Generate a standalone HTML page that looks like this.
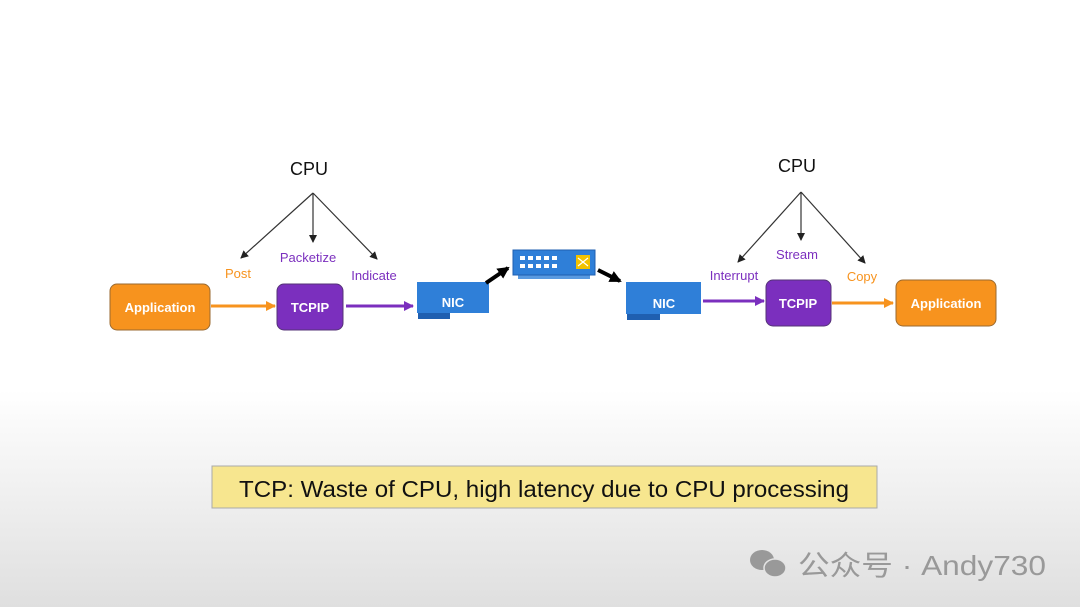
<!DOCTYPE html>
<html><head><meta charset="utf-8"><style>
html,body{margin:0;padding:0}
body{width:1080px;height:607px;overflow:hidden;background:linear-gradient(to bottom,#fff 0px,#fff 390px,#dfdfdf 607px);font-family:"Liberation Sans","Noto Sans CJK SC",sans-serif}
svg{display:block}
</style></head><body>
<svg width="1080" height="607" viewBox="0 0 1080 607" xmlns="http://www.w3.org/2000/svg" font-family="Liberation Sans, Noto Sans CJK SC, sans-serif">
<defs>
<marker id="k" markerWidth="8" markerHeight="8" refX="7" refY="4" orient="auto" markerUnits="userSpaceOnUse"><path d="M0,0 L8,4 L0,8 z" fill="#222"/></marker>
<marker id="o" markerWidth="10" markerHeight="10" refX="9" refY="5" orient="auto" markerUnits="userSpaceOnUse"><path d="M0,0 L10,5 L0,10 z" fill="#F7931E"/></marker>
<marker id="p" markerWidth="10" markerHeight="10" refX="9" refY="5" orient="auto" markerUnits="userSpaceOnUse"><path d="M0,0 L10,5 L0,10 z" fill="#7B2FBE"/></marker>
<marker id="b" markerWidth="12" markerHeight="12" refX="10" refY="6" orient="auto" markerUnits="userSpaceOnUse"><path d="M0,0 L12,6 L0,12 z" fill="#000"/></marker>
</defs>
<text x="309" y="175" font-size="18" text-anchor="middle" fill="#111">CPU</text>
<g stroke="#333" stroke-width="1.2" fill="none" marker-end="url(#k)">
<line x1="313" y1="193" x2="241" y2="258"/><line x1="313" y1="193" x2="313" y2="242"/><line x1="313" y1="193" x2="377" y2="259"/>
<line x1="801" y1="192" x2="738" y2="262"/><line x1="801" y1="192" x2="801" y2="240"/><line x1="801" y1="192" x2="865" y2="263"/>
</g>
<text x="238" y="278" font-size="13" text-anchor="middle" fill="#F7931E">Post</text>
<text x="308" y="262" font-size="13" text-anchor="middle" fill="#7B2FBE">Packetize</text>
<text x="374" y="280" font-size="13" text-anchor="middle" fill="#7B2FBE">Indicate</text>
<text x="797" y="172" font-size="18" text-anchor="middle" fill="#111">CPU</text>
<text x="734" y="280" font-size="13" text-anchor="middle" fill="#7B2FBE">Interrupt</text>
<text x="797" y="259" font-size="13" text-anchor="middle" fill="#7B2FBE">Stream</text>
<text x="862" y="281" font-size="13" text-anchor="middle" fill="#F7931E">Copy</text>
<rect x="110" y="284" width="100" height="46" rx="7" fill="#F7931E" stroke="#9a6a30" stroke-width="1"/>
<text x="160" y="312" font-size="13" font-weight="bold" text-anchor="middle" fill="#fff">Application</text>
<line x1="211" y1="306" x2="275" y2="306" stroke="#F7931E" stroke-width="3" marker-end="url(#o)"/>
<rect x="277" y="284" width="66" height="46" rx="7" fill="#7B2FBE" stroke="#553377" stroke-width="1"/>
<text x="310" y="312" font-size="13" font-weight="bold" text-anchor="middle" fill="#fff">TCPIP</text>
<line x1="346" y1="306" x2="413" y2="306" stroke="#7B2FBE" stroke-width="3" marker-end="url(#p)"/>
<rect x="418" y="312" width="32" height="7" fill="#1f5fb0"/>
<rect x="417" y="282" width="72" height="31" fill="#2F7FD8"/>
<text x="453" y="307" font-size="13" font-weight="bold" text-anchor="middle" fill="#fff">NIC</text>
<line x1="486" y1="283" x2="508" y2="268" stroke="#000" stroke-width="4" marker-end="url(#b)"/>
<rect x="518" y="274" width="72" height="5" fill="#5a9ae0"/>
<rect x="513" y="250" width="82" height="25" fill="#2F7FD8" stroke="#1f5fb0" stroke-width="1"/>
<g fill="#fff">
<rect x="520" y="256" width="5" height="4"/><rect x="528" y="256" width="5" height="4"/><rect x="536" y="256" width="5" height="4"/><rect x="544" y="256" width="5" height="4"/><rect x="552" y="256" width="5" height="4"/>
<rect x="520" y="264" width="5" height="4"/><rect x="528" y="264" width="5" height="4"/><rect x="536" y="264" width="5" height="4"/><rect x="544" y="264" width="5" height="4"/><rect x="552" y="264" width="5" height="4"/>
</g>
<rect x="576" y="255" width="14" height="14" fill="#F2C200"/>
<path d="M578,258 L588,266 M578,266 L588,258" stroke="#fff" stroke-width="1.2"/>
<line x1="598" y1="270" x2="620" y2="281" stroke="#000" stroke-width="4" marker-end="url(#b)"/>
<rect x="627" y="313" width="33" height="7" fill="#1f5fb0"/>
<rect x="626" y="282" width="75" height="32" fill="#2F7FD8"/>
<text x="664" y="308" font-size="13" font-weight="bold" text-anchor="middle" fill="#fff">NIC</text>
<line x1="703" y1="301" x2="764" y2="301" stroke="#7B2FBE" stroke-width="3" marker-end="url(#p)"/>
<rect x="766" y="280" width="65" height="46" rx="7" fill="#7B2FBE" stroke="#553377" stroke-width="1"/>
<text x="798" y="308" font-size="13" font-weight="bold" text-anchor="middle" fill="#fff">TCPIP</text>
<line x1="832" y1="303" x2="893" y2="303" stroke="#F7931E" stroke-width="3" marker-end="url(#o)"/>
<rect x="896" y="280" width="100" height="46" rx="7" fill="#F7931E" stroke="#9a6a30" stroke-width="1"/>
<text x="946" y="308" font-size="13" font-weight="bold" text-anchor="middle" fill="#fff">Application</text>
<rect x="212" y="466" width="665" height="42" fill="#F7E68F" stroke="#aaa" stroke-width="1"/>
<text x="544" y="497" font-size="23" text-anchor="middle" fill="#111" textLength="610" lengthAdjust="spacingAndGlyphs">TCP: Waste of CPU, high latency due to CPU processing</text>
<ellipse cx="762" cy="560" rx="12" ry="10" fill="#999"/>
<ellipse cx="775" cy="568" rx="11" ry="9" fill="#999" stroke="#e4e4e4" stroke-width="1.5"/>
<text x="798" y="575" font-size="28" fill="#999" textLength="248" lengthAdjust="spacingAndGlyphs">公众号 · Andy730</text>
</svg>
</body></html>
